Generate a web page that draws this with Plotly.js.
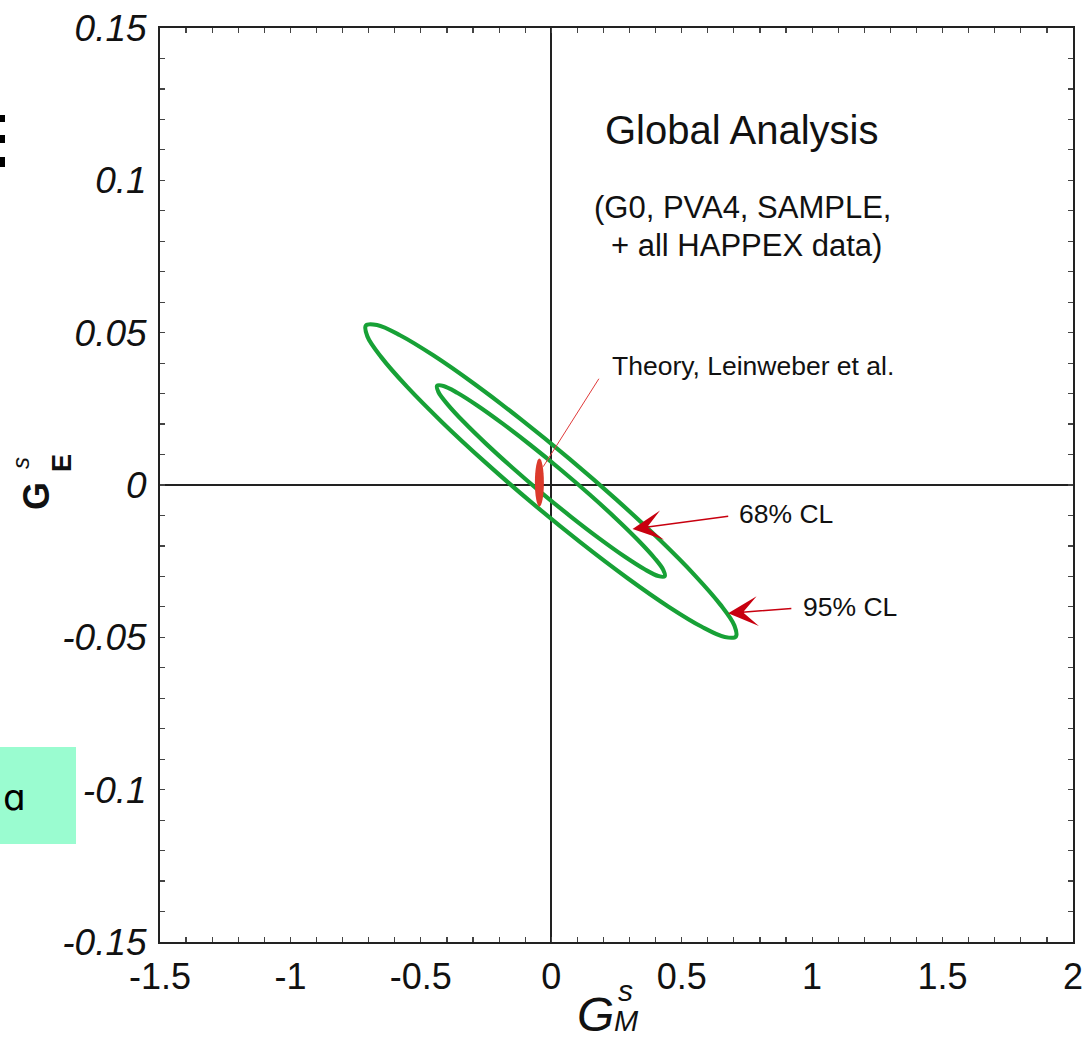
<!DOCTYPE html>
<html>
<head>
<meta charset="utf-8">
<script src="https://cdn.plot.ly/plotly-3.0.1.min.js"></script>
<style>html,body{margin:0;padding:0;background:#fff;}#chart{width:1089px;height:1042px;}</style>
</head>
<body>
<div id="chart"></div>
<script>
// ---- data ----
// 95% CL contour outline (G_M^s, G_E^s)
const cl95_x = [-0.0727,-0.2538,-0.4177,-0.5533,-0.6512,-0.7048,-0.7106,-0.6680,-0.5800,-0.4525,-0.2944,-0.1162,0.0697,0.2508,0.4147,0.5503,0.6482,0.7018,0.7076,0.6650,0.5770,0.4495,0.2914,0.1132,-0.0727];
const cl95_y = [-0.00596,0.00750,0.02054,0.03227,0.04189,0.04874,0.05236,0.05250,0.04915,0.04255,0.03313,0.02154,0.00858,-0.00488,-0.01792,-0.02965,-0.03927,-0.04612,-0.04974,-0.04988,-0.04653,-0.03993,-0.03051,-0.01892,-0.00596];
// 68% CL contour outline
const cl68_x = [-0.0384,-0.1500,-0.2515,-0.3360,-0.3977,-0.4324,-0.4377,-0.4133,-0.3608,-0.2839,-0.1877,-0.0788,0.0354,0.1470,0.2485,0.3330,0.3947,0.4294,0.4347,0.4103,0.3578,0.2809,0.1847,0.0758,-0.0384];
const cl68_y = [-0.00247,0.00575,0.01367,0.02074,0.02649,0.03052,0.03257,0.03248,0.03027,0.02609,0.02021,0.01305,0.00509,-0.00313,-0.01105,-0.01812,-0.02387,-0.02790,-0.02995,-0.02986,-0.02765,-0.02347,-0.01759,-0.01043,-0.00247];
// Theory (Leinweber et al.): centre and half-widths
const theoryX = [-0.0456];
const theoryY = [0.0008];
const theoryErrX = [0.0172];
const theoryErrY = [0.0079];
// tick labels
const xTickVals = [-1.5,-1,-0.5,0,0.5,1,1.5,2];
const xTickText = ["-1.5","-1","-0.5","0","0.5","1","1.5","2"];
const yTickVals = [-0.15,-0.1,-0.05,0,0.05,0.1,0.15];
const yTickText = ["-0.15","-0.1","-0.05","0","0.05","0.1","0.15"];

// ---- layout helpers ----
const W = 1089, H = 1042, ML = 160, MR = 16, MT = 28, MB = 100;
const PW = W - ML - MR, PH = H - MT - MB;
const px = v => (v - ML) / PW;          // pixel x -> paper x
const py = v => (H - MB - v) / PH;      // pixel y -> paper y

const FONT = "Liberation Sans, Arial, Helvetica, sans-serif";
const GREEN = "#17a136";
const RED = "#c8000f";

const traces = [
  {x: cl95_x, y: cl95_y, mode: "lines", name: "95% CL",
   line: {color: GREEN, width: 4.2, shape: "spline", smoothing: 1}, hoverinfo: "skip"},
  {x: cl68_x, y: cl68_y, mode: "lines", name: "68% CL",
   line: {color: GREEN, width: 4.2, shape: "spline", smoothing: 1}, hoverinfo: "skip"}
];

const shapes = [
  {type: "circle", xref: "x", yref: "y", layer: "above",
   x0: theoryX[0] - theoryErrX[0], x1: theoryX[0] + theoryErrX[0],
   y0: theoryY[0] - theoryErrY[0], y1: theoryY[0] + theoryErrY[0],
   fillcolor: "#dc3a2c", line: {width: 0}},
  // cropped slide remnants on the left
  {type: "rect", xref: "paper", yref: "paper", x0: px(-20), x1: px(76), y0: py(844), y1: py(747),
   fillcolor: "#9afcd0", line: {width: 0}},
  {type: "rect", xref: "paper", yref: "paper", x0: px(-20), x1: px(5), y0: py(122), y1: py(115),
   fillcolor: "#000", line: {width: 0}},
  {type: "rect", xref: "paper", yref: "paper", x0: px(-20), x1: px(5), y0: py(143), y1: py(135),
   fillcolor: "#000", line: {width: 0}},
  {type: "rect", xref: "paper", yref: "paper", x0: px(-20), x1: px(5), y0: py(167), y1: py(157),
   fillcolor: "#000", line: {width: 0}}
];

const txt = (text, x, y, size, extra) => Object.assign({
  text: text, x: x, y: y, xref: "x", yref: "y", showarrow: false,
  xanchor: "center", yanchor: "middle",
  font: {family: FONT, size: size, color: "#111"}
}, extra || {});

const ptxt = (text, pxX, pxY, size, extra) => Object.assign({
  text: text, x: px(pxX), y: py(pxY), xref: "paper", yref: "paper", showarrow: false,
  xanchor: "center", yanchor: "middle",
  font: {family: FONT, size: size, color: "#111"}
}, extra || {});

const annotations = [
  txt("Global Analysis", 0.730, 0.1166, 40),
  txt("(G0, PVA4, SAMPLE,", 0.732, 0.0910, 31),
  txt("+ all HAPPEX data)", 0.748, 0.0785, 31),
  txt("Theory, Leinweber et al.", 0.2245, 0.0391, 26.5, {xanchor: "left"}),
  txt("68% CL", 0.712, -0.00952, 26.5, {xanchor: "left"}),
  txt("95% CL", 0.959, -0.03997, 26.5, {xanchor: "left"}),
  // pointers
  {text: "", x: 0.3115, y: -0.01445, ax: 0.684, ay: -0.0102, xref: "x", yref: "y", axref: "x", ayref: "y",
   showarrow: true, arrowhead: 3, arrowsize: 3.3, arrowwidth: 1.5, arrowcolor: RED, standoff: 0},
  {text: "", x: 0.678, y: -0.04213, ax: 0.926, ay: -0.0405, xref: "x", yref: "y", axref: "x", ayref: "y",
   showarrow: true, arrowhead: 3, arrowsize: 3.3, arrowwidth: 1.5, arrowcolor: RED, standoff: 0},
  {text: "", x: -0.031, y: 0.0060, ax: 0.186, ay: 0.03537, xref: "x", yref: "y", axref: "x", ayref: "y",
   showarrow: true, arrowhead: 0, arrowwidth: 1, arrowcolor: "#e03a3a", standoff: 0},
  // x-axis title  G_M^s
  ptxt("<i>G</i>", 595, 1015, 48),
  ptxt("<i>s</i>", 625, 990, 30),
  ptxt("<i>M</i>", 626, 1021, 29),
  // y-axis title  G_E^s
  ptxt("<b>G</b>", 36, 496, 36, {textangle: -90}),
  ptxt("<b>E</b>", 62, 463, 27, {textangle: -90}),
  ptxt("<i>s</i>", 20, 463, 24, {textangle: -90}),
  // letter on the cropped slide box
  ptxt("ɑ", 1, 798, 36, {xanchor: "left", font: {family: "DejaVu Sans, sans-serif", size: 36, color: "#000"}})
];

const axisCommon = {
  showgrid: false, zeroline: true, zerolinecolor: "#222", zerolinewidth: 2,
  showline: true, linecolor: "#222", linewidth: 2, mirror: "ticks",
  ticks: "inside", ticklen: 5, tickwidth: 1.2, tickcolor: "#444",
  tickmode: "array", fixedrange: true
};

const layout = {
  width: W, height: H,
  margin: {l: ML, r: MR, t: MT, b: MB, pad: 0},
  paper_bgcolor: "#fff", plot_bgcolor: "#fff",
  showlegend: false,
  xaxis: Object.assign({}, axisCommon, {
    range: [-1.5, 2], tickvals: xTickVals, ticktext: xTickText,
    minor: {dtick: 0.1, tick0: 0, ticks: "inside", ticklen: 5, tickwidth: 1.2, tickcolor: "#444", showgrid: false},
    tickfont: {family: FONT, size: 36, color: "#111"}, ticklabelstandoff: 2
  }),
  yaxis: Object.assign({}, axisCommon, {
    range: [-0.15, 0.15], tickvals: yTickVals, ticktext: yTickText,
    minor: {dtick: 0.01, tick0: 0, ticks: "inside", ticklen: 5, tickwidth: 1.2, tickcolor: "#444", showgrid: false},
    tickfont: {family: FONT, size: 37, color: "#111", style: "italic"}, ticklabelstandoff: 4
  }),
  shapes: shapes,
  annotations: annotations
};

Plotly.newPlot("chart", traces, layout, {displayModeBar: false, staticPlot: true});
</script>
</body>
</html>
